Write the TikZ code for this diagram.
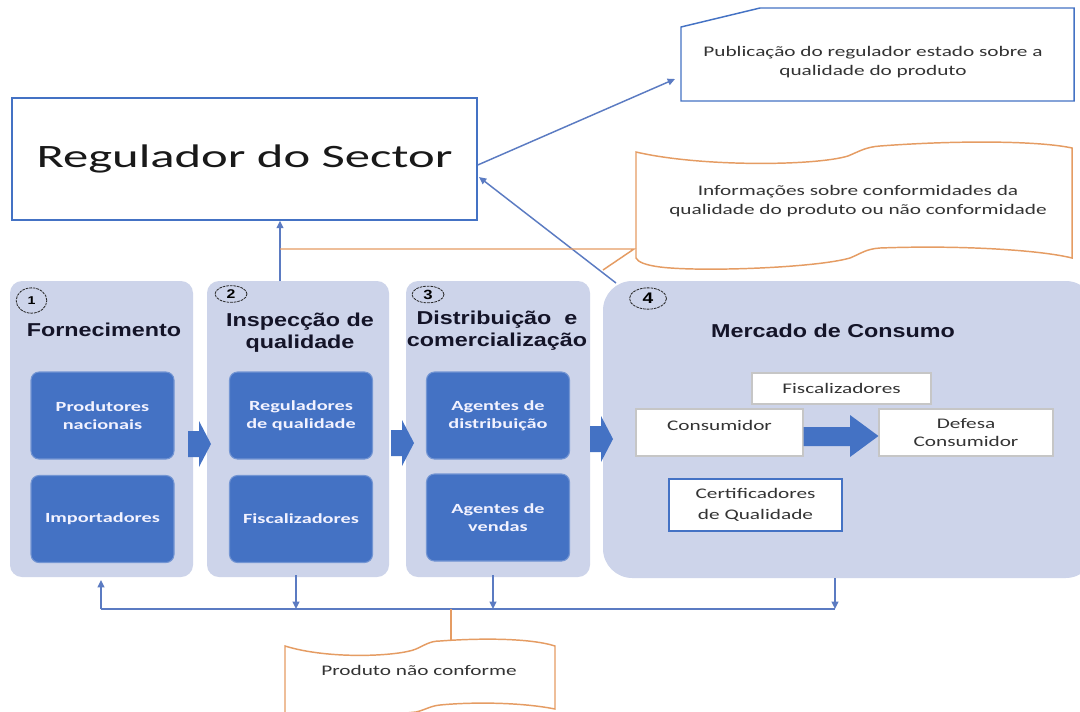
\documentclass[tikz,border=0pt]{standalone}
\usepackage{fontspec}
\setmainfont{Carlito}
\newfontfamily\cfreg[FakeStretch=1.55]{Carlito}
\newfontfamily\cfsm[FakeStretch=1.45]{Carlito}
\newfontfamily\cfbd[FakeStretch=1.45]{Carlito}
\newfontfamily\afttl[FakeStretch=1.25]{Liberation Sans}
\usetikzlibrary{arrows.meta,calc,shapes.geometric}
\definecolor{blu}{HTML}{4472C4}
\definecolor{lnk}{HTML}{5B7BC2}
\definecolor{pan}{HTML}{CDD4EA}
\definecolor{org}{HTML}{E59C63}
\definecolor{txt}{HTML}{333333}
\definecolor{ttl}{HTML}{141428}
\newcommand\fntreg{\cfreg\fontsize{24.5}{28}\selectfont}
\newcommand\fntsmall{\cfsm\fontsize{11}{14}\selectfont}
\newcommand\fntinner{\cfbd\bfseries\fontsize{10.5}{13.5}\selectfont}
\newcommand\fntttl{\afttl\bfseries\fontsize{14}{16.5}\selectfont}
\begin{document}
\begin{tikzpicture}[x=0.75pt,y=-0.75pt,
  panel/.style={fill=pan, rounded corners=9pt, draw=none, inner sep=0pt},
  ibox/.style={fill=blu, rounded corners=6pt, draw=blu!75!white, line width=0.8pt,
    minimum width=107.25pt, minimum height=65.25pt, text=white!95!blue, font=\fntinner, align=center, inner sep=2pt},
  wbox/.style={fill=white, draw=gray!45, line width=0.8pt, align=center, font=\fntsmall, text=txt, inner sep=2pt},
  ttlnode/.style={font=\fntttl, text=ttl, align=center, inner sep=0pt},
  num/.style={draw=black!85, dash pattern=on 2pt off 0.7pt, line width=0.6pt, ellipse, inner sep=0pt, text=black},
  lnk/.style={draw=lnk, line width=1.1pt, -{Triangle[length=5.5pt,width=5pt]}},
  oln/.style={draw=org, line width=1.1pt},
  smalltext/.style={font=\fntsmall, align=center, text=txt, inner sep=0pt},
  pics/barrow/.style={code={\fill[blu] (0,-13) -- (11,-13) -- (11,-23) -- (23,0) -- (11,23) -- (11,13) -- (0,13) -- cycle;}}
]
\useasboundingbox (0,0) rectangle (1080,711);
\fill[white] (0,0) rectangle (1080,711);
\begin{scope}
\clip (0,0) rectangle (1080,711);

% panels
\node[panel, minimum width=137.25pt, minimum height=222pt] (p1) at (101.5,429) {};
\node[panel, minimum width=136.5pt, minimum height=222pt] (p2) at (298,429) {};
\node[panel, minimum width=138pt, minimum height=222pt] (p3) at (498,429) {};
\node[panel, rounded corners=22pt, minimum width=369pt, minimum height=222.75pt] (p4) at (849,429.5) {};

% inner blue boxes
\node[ibox] (b11) at (102.5,415.5) {Produtores\\nacionais};
\node[ibox] (b12) at (102.5,519) {Importadores};
\node[ibox] (b21) at (301,415.5) {Reguladores\\de qualidade};
\node[ibox] (b22) at (301,519) {Fiscalizadores};
\node[ibox] (b31) at (498,415.5) {Agentes de\\distribuição};
\node[ibox] (b32) at (498,517.5) {Agentes de\\vendas};

% block arrows between panels
\pic at (188,444) {barrow};
\pic at (391,443) {barrow};
\pic at (590,439) {barrow};

% numbers
\node[num, minimum width=23pt, minimum height=19pt, font=\afttl\bfseries\fontsize{8.5}{8.5}\selectfont] (n1) at (31.5,300.5) {1};
\node[num, minimum width=24pt, minimum height=12.5pt, font=\afttl\bfseries\fontsize{9.5}{9.5}\selectfont] (n2) at (231,294) {2};
\node[num, minimum width=24pt, minimum height=12.5pt, font=\afttl\bfseries\fontsize{10}{10}\selectfont] (n3) at (428,294.5) {3};
\node[num, minimum width=27.75pt, minimum height=16pt, font=\afttl\bfseries\fontsize{11.5}{11.5}\selectfont] (n4) at (648,298.5) {4};

% titles
\node[ttlnode] (t1) at (104,330) {Fornecimento};
\node[ttlnode] (t2) at (300,333) {Inspecção de\\qualidade};
\node[ttlnode] (t3) at (497,331) {Distribuição\ \ e\\comercialização};
\node[ttlnode] (t4) at (833,331) {Mercado de Consumo};

% market inner boxes
\node[wbox, minimum width=134.25pt, minimum height=23.25pt] (fisc) at (841.5,388.5) {Fiscalizadores};
\node[wbox, minimum width=125.25pt, minimum height=35.25pt, text depth=10pt] (cons) at (719.5,432.5) {Consumidor};
\node[wbox, minimum width=130.5pt, minimum height=35.25pt] (def) at (966,432.5) {Defesa\\Consumidor};
\node[wbox, draw=blu, minimum width=129.75pt, minimum height=39pt, font=\cfsm\fontsize{11}{16}\selectfont] (cert) at (755.5,505) {Certificadores\\de Qualidade};
\fill[blu] (cons.east |- 0,427) -- (850,427) -- (850,415) -- (def.west |- 0,436) -- (850,457) -- (850,446) -- (cons.east |- 0,446) -- cycle;

% regulator
\node[draw=blu, line width=1.1pt, minimum width=348.75pt, minimum height=91.5pt, font=\fntreg, text=black!90] (reg) at (244.5,159) {Regulador do Sector};

% publication box
\draw[draw=blu, line width=1.1pt] (681,27) -- (760,8) -- (1074,8) -- (1074,101) -- (681,101) -- cycle;
\node[smalltext] (pub) at (873,62) {Publicação do regulador estado sobre a\\qualidade do produto};

% information document
\draw[oln, fill=white] (636,152) .. controls (700,167) and (815,166) .. (848,156)
  .. controls (860,151) and (866,147) .. (880,146)
  .. controls (960,140) and (1040,141) .. (1072,148)
  -- (1072,258)
  .. controls (1040,250) and (960,245) .. (880,248)
  .. controls (866,249) and (862,253) .. (850,258)
  .. controls (815,268) and (700,272) .. (660,267)
  .. controls (645,265) and (638,262) .. (636,258) -- cycle;
\node[smalltext] (info) at (858,201) {Informações sobre conformidades da\\qualidade do produto ou não conformidade};

% top connectors
\coordinate (rs) at ($(reg.east)+(0,6)$);
\coordinate (pt) at (675,79);
\draw[lnk] (rs) -- (pt);
\coordinate (p4c) at (616,283);
\coordinate (rt) at (479,177);
\draw[lnk] (p4c) -- (rt);
\coordinate (up) at (280,281);
\draw[lnk] (up) -- (up |- reg.south);
\coordinate (oa) at (280,249);
\coordinate (ob) at (634,249);
\coordinate (oc) at (603,270);
\draw[oln] (oa) -- (ob) -- (oc);

% bottom connectors
\coordinate (bl) at (101,609);
\coordinate (br) at (835,609);
\coordinate (m2) at (296,609);
\coordinate (m3) at (493,609);
\coordinate (mo) at (451,609);
\draw[draw=lnk, line width=1.1pt] (bl) -- (br);
\draw[lnk] (bl) -- (101,580);
\draw[lnk] (296,575) -- (m2);
\draw[lnk] (493,575) -- (m3);
\draw[lnk] (835,578) -- (br);

% product document
\draw[oln, fill=white] (285,646) .. controls (330,660) and (400,656) .. (416,649)
  .. controls (425,645) and (430,641) .. (440,641)
  .. controls (480,638) and (530,638) .. (555,646)
  -- (555,709)
  .. controls (520,702) and (470,702) .. (440,705)
  .. controls (430,706) and (425,710) .. (416,712)
  .. controls (380,716) and (320,716) .. (285,714) -- cycle;
\draw[oln] (mo) -- (451,641);
\node[smalltext] (prod) at (419,670) {Produto não conforme};
\end{scope}
\end{tikzpicture}
\end{document}
